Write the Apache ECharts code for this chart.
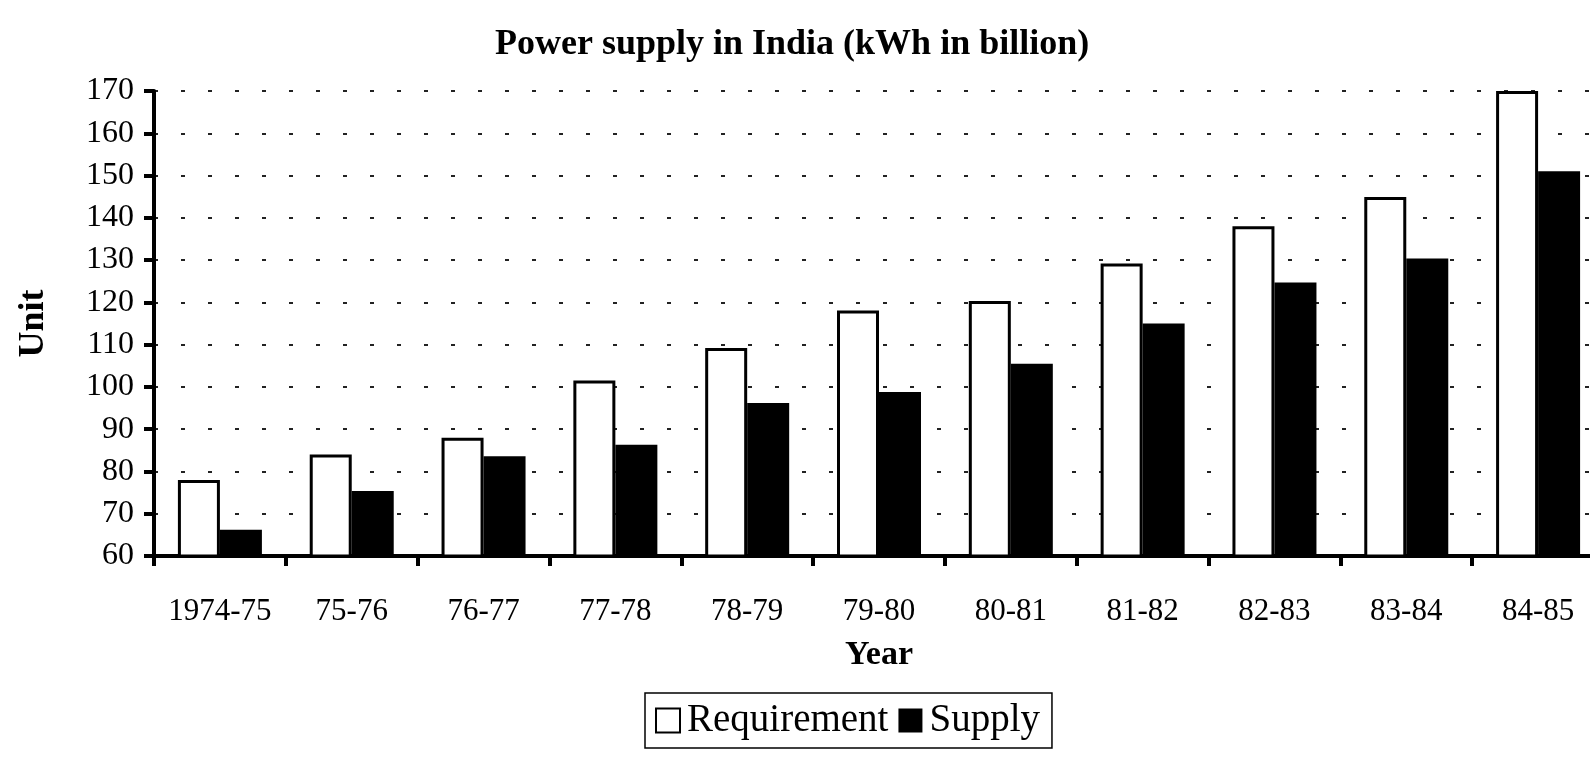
<!DOCTYPE html>
<html>
<head>
<meta charset="utf-8">
<script src="https://cdn.jsdelivr.net/npm/echarts@6/dist/echarts.min.js"></script>
<style>
html,body{margin:0;padding:0;background:#fff;}
#chart{width:1590px;height:767px;}
</style>
</head>
<body>
<div id="chart"></div>
<script>
var categories = ['1974-75','75-76','76-77','77-78','78-79','79-80','80-81','81-82','82-83','83-84','84-85'];
var requirement = [78, 84, 88, 101.5, 109.2, 118.1, 120.3, 129.2, 138, 144.9, 170];
var supply = [66.2, 75.4, 83.6, 86.3, 96.2, 98.8, 105.5, 115, 124.7, 130.4, 151];
var titleText = 'Power supply in India (kWh in billion)';

var serif = "'Liberation Serif','Times New Roman',serif";
var chart = echarts.init(document.getElementById('chart'), null, {renderer:'canvas'});
chart.setOption({
  animation: false,
  backgroundColor: '#fff',
  title: {
    text: titleText,
    left: 490,
    top: 22,
    textStyle: {fontFamily: serif, fontWeight: 'bold', fontSize: 36, color: '#000'}
  },
  legend: {
    left: 645, top: 693,
    orient: 'horizontal',
    borderColor: '#000', borderWidth: 1.5,
    padding: [8, 12, 8, 10],
    itemWidth: 24, itemHeight: 24, itemGap: 10,
    icon: 'rect',
    textStyle: {fontFamily: serif, fontSize: 39, color: '#000', padding: [0,0,0,2]},
    data: [
      {name: 'Requirement', itemStyle: {color: '#fff', borderColor: '#000', borderWidth: 2}},
      {name: 'Supply', itemStyle: {color: '#000', borderColor: '#000', borderWidth: 0}}
    ]
  },
  grid: {left: 154, top: 91, bottom: 211, width: 1450, outerBoundsMode: 'none', containLabel: false},
  xAxis: {
    type: 'category',
    data: categories,
    name: 'Year',
    nameLocation: 'middle',
    nameGap: 82,
    nameTextStyle: {fontFamily: serif, fontWeight: 'bold', fontSize: 34, color: '#000'},
    axisLine: {lineStyle: {color: '#000', width: 4}},
    axisTick: {show: true, length: 10, lineStyle: {color: '#000', width: 4}},
    axisLabel: {fontFamily: serif, fontSize: 31, color: '#000', margin: 40, interval: 0, hideOverlap: false}
  },
  yAxis: {
    type: 'value',
    min: 60, max: 170, interval: 10,
    name: 'Unit',
    nameLocation: 'middle',
    nameGap: 102,
    nameTextStyle: {fontFamily: serif, fontWeight: 'bold', fontSize: 36, color: '#000'},
    axisLine: {show: true, lineStyle: {color: '#000', width: 4}},
    axisTick: {show: true, length: 10, lineStyle: {color: '#000', width: 4}},
    axisLabel: {fontFamily: serif, fontSize: 32, color: '#000', margin: 20},
    splitLine: {show: true, lineStyle: {color: '#222', width: 2, type: [4, 23]}}
  },
  series: [
    {
      name: 'Requirement', type: 'bar', data: requirement,
      barWidth: 42, barGap: '0%',
      itemStyle: {color: '#fff', borderColor: '#000', borderWidth: 3}
    },
    {
      name: 'Supply', type: 'bar', data: supply,
      barWidth: 42,
      itemStyle: {color: '#000'}
    }
  ]
});
</script>
</body>
</html>
